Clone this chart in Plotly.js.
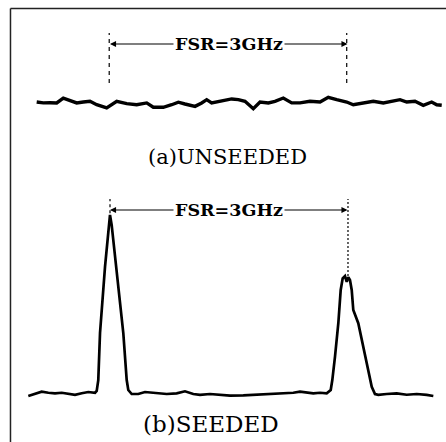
<!DOCTYPE html>
<html>
<head>
<meta charset="utf-8">
<script src="https://cdn.plot.ly/plotly-3.0.1.min.js"></script>
<style>html,body{margin:0;padding:0;background:#fff;}#chart{width:446px;height:442px;}</style>
</head>
<body>
<div id="chart"></div>
<script>
// Frequency in GHz (0 = first cavity mode), intensity in arbitrary units
var unseededFreq = [-0.926,-0.842,-0.758,-0.673,-0.590,-0.505,-0.421,-0.337,-0.253,-0.168,-0.042,0.085,0.211,0.337,0.464,0.547,0.673,0.779,0.863,0.947,1.074,1.158,1.221,1.284,1.411,1.537,1.621,1.705,1.810,1.895,2.000,2.084,2.189,2.295,2.400,2.526,2.653,2.757,2.863,2.990,3.073,3.199,3.326,3.452,3.578,3.663,3.748,3.852,3.957,4.063,4.127,4.190];
var unseededInt = [0.044,0.039,0.040,0.039,0.066,0.051,0.039,0.044,0.048,0.029,0.011,0.048,0.035,0.029,0.039,0.015,0.015,0.029,0.043,0.033,0.020,0.039,0.057,0.039,0.048,0.061,0.057,0.048,0.007,0.044,0.039,0.048,0.066,0.039,0.039,0.048,0.044,0.070,0.057,0.044,0.029,0.039,0.048,0.039,0.048,0.057,0.044,0.048,0.026,0.044,0.029,0.026];

var seededFreq = [-1.032,-0.947,-0.863,-0.779,-0.695,-0.610,-0.527,-0.442,-0.357,-0.274,-0.189,-0.168,-0.148,-0.126,-0.063,0,0.021,0.105,0.168,0.211,0.231,0.274,0.357,0.442,0.527,0.632,0.716,0.842,0.947,1.052,1.137,1.263,1.389,1.516,1.684,1.853,2.021,2.189,2.315,2.400,2.485,2.568,2.653,2.737,2.788,2.808,2.842,2.884,2.914,2.939,2.968,2.990,3.010,3.031,3.053,3.073,3.136,3.199,3.262,3.306,3.347,3.389,3.495,3.621,3.748,3.874,4.000,4.084];
var seededInt = [0,0.011,0.024,0.018,0.015,0.018,0.011,0.006,0.015,0.022,0.018,0.028,0.088,0.348,0.713,1.000,0.945,0.624,0.348,0.088,0.033,0.011,0.011,0.022,0.018,0.015,0.011,0.015,0.026,0.011,0.006,0.011,0.007,0.002,0.004,0.007,0.011,0.015,0.018,0.024,0.018,0.015,0.018,0.015,0.033,0.088,0.217,0.402,0.586,0.650,0.663,0.631,0.656,0.641,0.586,0.475,0.402,0.272,0.144,0.051,0.011,0.006,0.011,0.015,0.007,0.011,0.006,0];

var fsrModes = [0, 3];          // GHz, mode positions spanning one FSR
var fsrLabel = 'FSR=3GHz';
var panelLabels = ['(a)UNSEEDED', '(b)SEEDED'];

var serif = 'DejaVu Serif, Liberation Serif, serif';

var traces = [
  {x: unseededFreq, y: unseededInt, xaxis: 'x', yaxis: 'y2', mode: 'lines',
   line: {color: '#000', width: 3.4, shape: 'linear'}, hoverinfo: 'skip'},
  {x: seededFreq, y: seededInt, xaxis: 'x', yaxis: 'y', mode: 'lines',
   line: {color: '#000', width: 2.7, shape: 'linear'}, hoverinfo: 'skip'}
];

var topArrowY = 0.3646, botArrowY = 1.0276;
var mid = (fsrModes[0] + fsrModes[1]) / 2;

function arrow(xHead, y, yref) {
  return {x: xHead, y: y, xref: 'x', yref: yref, ax: mid, ay: y, axref: 'x', ayref: yref,
          text: '', showarrow: true, arrowhead: 2, arrowsize: 1.1, arrowwidth: 1.1, arrowcolor: '#000', standoff: 0};
}

var annotations = [
  arrow(fsrModes[0], topArrowY, 'y2'), arrow(fsrModes[1], topArrowY, 'y2'),
  arrow(fsrModes[0], botArrowY, 'y'), arrow(fsrModes[1], botArrowY, 'y'),
  {x: mid, y: topArrowY, xref: 'x', yref: 'y2', text: fsrLabel, showarrow: false, bgcolor: '#fff',
   font: {family: serif, size: 17.5, color: '#000', weight: 'bold'}, borderpad: 1},
  {x: mid, y: botArrowY, xref: 'x', yref: 'y', text: fsrLabel, showarrow: false, bgcolor: '#fff',
   font: {family: serif, size: 17.5, color: '#000', weight: 'bold'}, borderpad: 1},
  {x: 1.478, y: -0.26, xref: 'x', yref: 'y2', text: panelLabels[0], showarrow: false,
   font: {family: serif, size: 21, color: '#000'}},
  {x: 1.276, y: -0.155, xref: 'x', yref: 'y', text: panelLabels[1], showarrow: false,
   font: {family: serif, size: 23, color: '#000'}}
];

var shapes = [
  // frame
  {type: 'line', xref: 'paper', yref: 'paper', x0: 0.0235, x1: 0.0235, y0: -0.01, y1: 0.9808, line: {color: '#222', width: 1.5}},
  {type: 'line', xref: 'paper', yref: 'paper', x0: 0.0235, x1: 1.01, y0: 0.9808, y1: 0.9808, line: {color: '#222', width: 1.5}},
  // dashed mode markers, top panel
  {type: 'line', xref: 'x', yref: 'y2', x0: fsrModes[0] - 0.01, x1: fsrModes[0] - 0.01, y0: 0.149, y1: 0.425, line: {color: '#000', width: 1.2, dash: '4px,4px'}},
  {type: 'line', xref: 'x', yref: 'y2', x0: fsrModes[1] - 0.01, x1: fsrModes[1] - 0.01, y0: 0.149, y1: 0.425, line: {color: '#000', width: 1.2, dash: '4px,4px'}},
  // dotted mode markers, bottom panel
  {type: 'line', xref: 'x', yref: 'y', x0: fsrModes[0], x1: fsrModes[0], y0: 1.01, y1: 1.088, line: {color: '#000', width: 1.2, dash: '3px,3px'}},
  {type: 'line', xref: 'x', yref: 'y', x0: fsrModes[1] + 0.006, x1: fsrModes[1] + 0.006, y0: 0.663, y1: 1.088, line: {color: '#000', width: 1.2, dash: '2px,2px'}}
];

var layout = {
  width: 446, height: 442,
  margin: {l: 0, r: 0, t: 0, b: 0, pad: 0},
  paper_bgcolor: '#fff', plot_bgcolor: '#fff',
  showlegend: false,
  hovermode: false,
  xaxis: {range: [-1.3894, 4.2440], domain: [0, 1], visible: false, fixedrange: true},
  yaxis: {range: [-0.2541, 1.1133], domain: [0, 0.56], visible: false, fixedrange: true},
  yaxis2: {range: [-0.4669, 0.6077], domain: [0.56, 1], anchor: 'x', visible: false, fixedrange: true},
  shapes: shapes,
  annotations: annotations
};

Plotly.newPlot('chart', traces, layout, {displayModeBar: false, staticPlot: true});
</script>
</body>
</html>
